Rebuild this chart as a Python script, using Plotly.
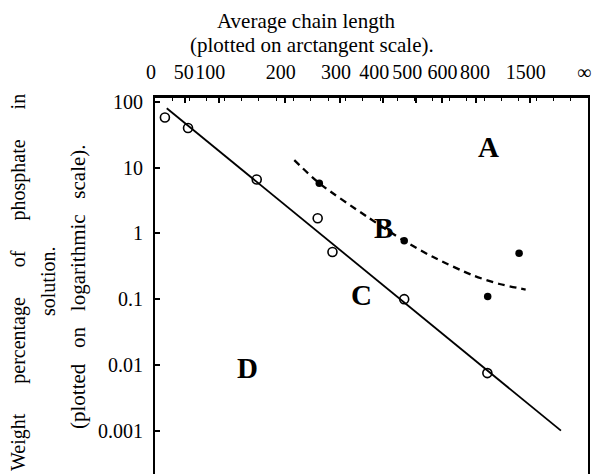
import numpy as np
import plotly.graph_objects as go

NB = "\u00a0"

# ---------------- data ----------------
tick_values = [0, 50, 100, 200, 300, 400, 500, 600, 800, 1500, np.inf]
tick_labels = ["0", NB + "50", "100" + NB * 2, "200", "300", "400" + NB * 2, "500" + NB * 2,
               NB * 2 + "600", NB + "800", "1500", "∞"]

open_n = [18, 54, 156, 257, 285, 460, 887]
open_v = [58, 40, 6.6, 1.7, 0.52, 0.10, 0.0075]

filled_n = [260, 460, 890, 1280]
filled_v = [5.8, 0.77, 0.11, 0.50]

line_n = [21, 3045]
line_v = [80, 0.001]

dash_n = [216, 260, 359, 460, 562, 775, 1007, 1407]
dash_v = [13, 5.8, 1.8, 0.77, 0.44, 0.23, 0.17, 0.14]

y_ticks = [100, 10, 1, 0.1, 0.01, 0.001]
y_labels = ["100", "10", "1", "0.1", "0.01", "0.001"]

# arctangent scale for chain length
K, P = 370.0, 1.1
def arct(n):
    n = np.asarray(n, dtype=float)
    with np.errstate(invalid="ignore", over="ignore"):
        out = 2 / np.pi * np.arctan((n / K) ** P)
    return np.where(np.isinf(n), 1.0, out)

# ---------------- layout helpers (pixel -> paper) ----------------
W, H = 593, 474
L, R, T, B = 155, 5, 98, 0
def px(x):
    return (x - L) / (W - L - R)
def py(y):
    return (H - B - y) / (H - T - B)

SERIF = "Liberation Serif"
SP1 = NB * 6
SP3 = NB * 3

fig = go.Figure()

fig.add_trace(go.Scatter(
    x=arct(line_n), y=line_v, mode="lines",
    line=dict(color="black", width=1.8), showlegend=False))

fig.add_trace(go.Scatter(
    x=arct(dash_n), y=dash_v, mode="lines",
    line=dict(color="black", width=2.3, dash="7px,5px", shape="spline", smoothing=0.8),
    showlegend=False))

fig.add_trace(go.Scatter(
    x=arct(open_n), y=open_v, mode="markers",
    marker=dict(symbol="circle-open", size=9, color="black", line=dict(width=1.6)),
    showlegend=False))

fig.add_trace(go.Scatter(
    x=arct(filled_n), y=filled_v, mode="markers",
    marker=dict(symbol="circle", size=7.5, color="black"),
    showlegend=False))

annotations = []
for txt, x, y in [("A", 488, 147), ("B", 383, 228), ("C", 361, 295), ("D", 247, 368)]:
    annotations.append(dict(text="<b>%s</b>" % txt, x=px(x), y=py(y), xref="paper", yref="paper",
                            showarrow=False, font=dict(family=SERIF, size=29, color="black"),
                            xanchor="center", yanchor="middle"))

annotations += [
    dict(text="Average chain length", x=px(306), y=py(21), xref="paper", yref="paper",
         showarrow=False, font=dict(family=SERIF, size=21, color="black"),
         xanchor="center", yanchor="middle"),
    dict(text="(plotted on arctangent scale).", x=px(312), y=py(45), xref="paper", yref="paper",
         showarrow=False, font=dict(family=SERIF, size=21, color="black"),
         xanchor="center", yanchor="middle"),
    dict(text="Weight" + SP1 + "percentage" + SP1 + "of" + SP1 + "phosphate" + SP1 + "in",
         x=px(18), y=py(283), xref="paper", yref="paper", textangle=-90,
         showarrow=False, font=dict(family=SERIF, size=20, color="black"),
         xanchor="center", yanchor="middle"),
    dict(text="solution.", x=px(48), y=py(282), xref="paper", yref="paper", textangle=-90,
         showarrow=False, font=dict(family=SERIF, size=20, color="black"),
         xanchor="center", yanchor="middle"),
    dict(text="(plotted" + SP3 + "on" + SP3 + "logarithmic" + SP3 + "scale).",
         x=px(78), y=py(287), xref="paper", yref="paper",
         textangle=-90, showarrow=False, font=dict(family=SERIF, size=21, color="black"),
         xanchor="center", yanchor="middle"),
]

fig.update_layout(
    template="none",
    width=W, height=H,
    margin=dict(l=L, r=R, t=T, b=B, autoexpand=False),
    paper_bgcolor="white", plot_bgcolor="white",
    annotations=annotations,
    xaxis=dict(
        side="top", range=[0, 1], tickmode="array", automargin=False,
        tickvals=list(arct(tick_values)), ticktext=tick_labels,
        tickangle=0, ticks="inside", ticklen=5, tickwidth=1.5, tickcolor="black",
        ticklabelshift=-4, ticklabelstandoff=8,
        minor=dict(ticks="inside", dtick=0.04, tick0=0, ticklen=3, tickwidth=1.2, tickcolor="black"),
        showline=True, linecolor="black", linewidth=2.5, mirror=False,
        showgrid=False, zeroline=False,
        tickfont=dict(family=SERIF, size=20, color="black")),
    yaxis=dict(
        type="log", range=[-3.659, 2.059], tickmode="array", automargin=False,
        tickvals=y_ticks, ticktext=y_labels,
        ticks="inside", ticklen=5, tickwidth=2, tickcolor="black",
        ticklabelstandoff=6,
        showline=True, linecolor="black", linewidth=2.2, mirror=True,
        showgrid=False, zeroline=False,
        tickfont=dict(family=SERIF, size=20, color="black")),
)

fig.write_html("out.html", config={"displayModeBar": False},
               post_script="document.body.style.margin='0px';document.body.style.padding='0px';"
                           "window.dispatchEvent(new Event('resize'));")
